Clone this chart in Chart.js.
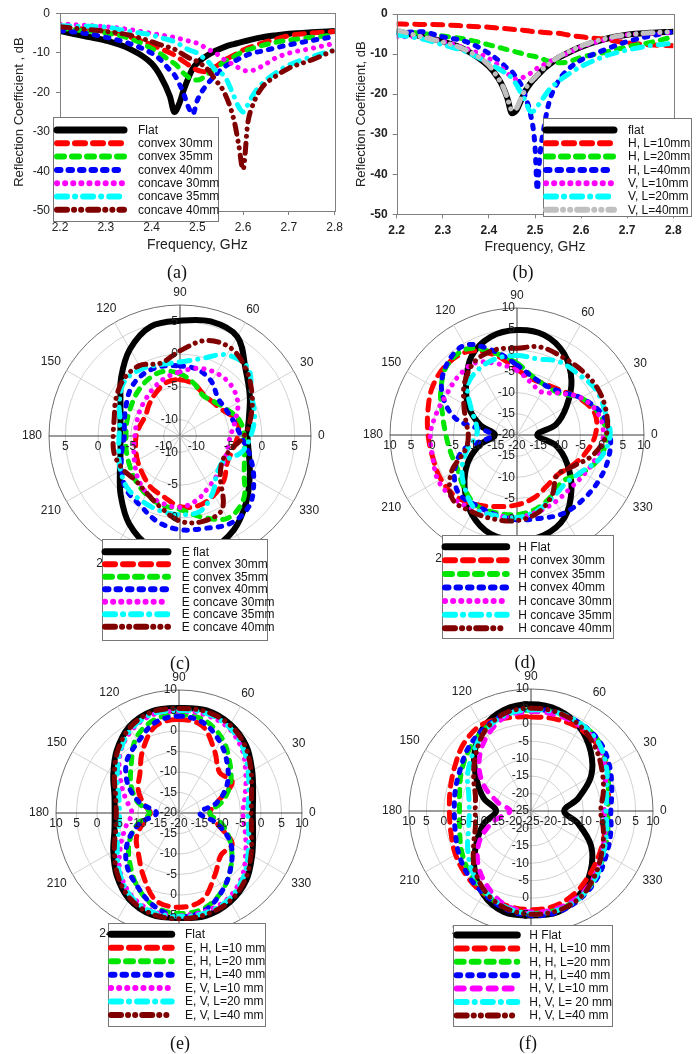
<!DOCTYPE html>
<html>
<head>
<meta charset="utf-8">
<script src="https://cdn.jsdelivr.net/npm/chart.js@4.4.0/dist/chart.umd.min.js"></script>
<style>
  body { margin: 0; background: #fff; width: 696px; height: 1054px; position: relative; overflow: hidden; }
  canvas { position: absolute; }
  .cap { position: absolute; width: 60px; margin-left: -30px; text-align: center; line-height: 20px;
         font-family: "Liberation Serif", "DejaVu Serif", serif; font-size: 18px; color: #111; }
</style>
</head>
<body>
<canvas id="ca" width="348" height="258" style="left:0;top:0"></canvas>
<canvas id="cb" width="348" height="258" style="left:348px;top:0"></canvas>
<canvas id="cc" width="348" height="400" style="left:0;top:258px"></canvas>
<canvas id="cd" width="348" height="400" style="left:348px;top:258px"></canvas>
<canvas id="ce" width="348" height="380" style="left:0;top:660px"></canvas>
<canvas id="cf" width="348" height="380" style="left:348px;top:660px"></canvas>
<div class="cap" style="left:177px;top:262px">(a)</div>
<div class="cap" style="left:523px;top:262px">(b)</div>
<div class="cap" style="left:180px;top:653px">(c)</div>
<div class="cap" style="left:525px;top:652px">(d)</div>
<div class="cap" style="left:180px;top:1033px">(e)</div>
<div class="cap" style="left:528px;top:1033px">(f)</div>
<script>
// ---- data: reflection coefficient (dB) vs frequency (GHz)
const X_TICKS = [2.2, 2.3, 2.4, 2.5, 2.6, 2.7, 2.8]
const Y_TICKS = [0, -10, -20, -30, -40, -50]

const FREQ_A = [2.2,2.25,2.3,2.35,2.4,2.42,2.44,2.45,2.46,2.47,2.48,2.49,2.5,2.51,2.52,2.54,2.56,2.58,2.59,2.6,2.61,2.62,2.64,2.67,2.7,2.75,2.8]
const A_LABELS = ['Flat', 'convex 30mm', 'convex 35mm', 'convex 40mm', 'concave 30mm', 'concave 35mm', 'concave 40mm']
const A_FLAT  = [-4.5,-5.7,-6.9,-8.9,-12.7,-16,-21,-25,-23,-19.5,-16.5,-14,-12.6,-11.6,-10.8,-9.5,-8.5,-7.8,-7.5,-7.2,-6.9,-6.6,-6.1,-5.6,-5.2,-4.8,-4.5]
const A_CVX30 = [-3.4,-4,-4.6,-5.9,-8,-9,-10,-10.6,-11.4,-12.2,-13,-13.7,-14.4,-14.7,-14.8,-13.5,-11.8,-10.6,-10,-9.3,-8.8,-8.4,-7.6,-6.6,-5.7,-5,-4.6]
const A_CVX35 = [-3.8,-4.4,-5,-6.3,-8.9,-10.3,-12,-12.7,-13.8,-15.2,-16.1,-16.9,-16.9,-16.5,-15.6,-13.9,-12.2,-11,-10.3,-9.7,-9.3,-8.9,-8.2,-7.4,-6.8,-6.1,-5.5]
const A_CVX40 = [-4.4,-5,-6.1,-7.6,-10.1,-11.8,-14.4,-15.6,-17.7,-20.3,-23.6,-25.5,-22,-19.8,-18.2,-15.6,-13.5,-12.2,-11.6,-11,-10.5,-10.1,-9.6,-8.8,-8,-6.9,-5.9]
const A_CCV30 = [-2.7,-3,-3.4,-4.1,-5.1,-5.5,-5.9,-6.1,-6.4,-6.7,-7,-7.3,-7.6,-8.2,-8.9,-10.1,-11.8,-13.1,-13.8,-14.4,-14.6,-14.5,-13.5,-11.4,-10.1,-8.9,-7.6]
const A_CCV35 = [-3.2,-3.3,-3.5,-4.6,-5.5,-6.2,-6.8,-7.2,-7.8,-8.5,-9.2,-9.6,-10.1,-11,-11.8,-14.4,-16,-21,-23.6,-25,-23.2,-21,-18,-15.2,-13.1,-11,-9.3]
const A_CCV40 = [-3.4,-4,-4.6,-5.5,-7.2,-8,-8.7,-9.1,-9.8,-10.5,-11.2,-11.7,-12.2,-13,-13.9,-16.9,-20.3,-27,-33,-39.5,-28,-23.6,-19,-16,-13.9,-11.8,-9.3]

const FREQ_B = [2.2,2.25,2.3,2.35,2.4,2.42,2.43,2.44,2.45,2.46,2.47,2.48,2.49,2.5,2.505,2.51,2.52,2.53,2.55,2.57,2.6,2.65,2.7,2.75,2.8]
const B_LABELS = ['flat', 'H, L=10mm', 'H, L=20mm', 'H, L=40mm', 'V, L=10mm', 'V, L=20mm', 'V, L=40mm']
const B_FLAT = [-4.4,-5.5,-6.9,-9,-13.1,-16,-18.1,-21,-24.8,-24,-21.5,-19,-17.3,-16,-15.4,-14.8,-13.6,-12.7,-11,-9.8,-8.2,-6.3,-5.2,-4.7,-4.4]
const B_H10  = [-2.5,-2.6,-2.7,-3,-3.3,-3.5,-3.6,-3.7,-3.8,-3.9,-4,-4.1,-4.3,-4.4,-4.45,-4.5,-4.6,-4.7,-4.8,-5.2,-5.7,-6.3,-7.2,-7.7,-7.9]
const B_H20  = [-4.4,-4.8,-5.5,-6.3,-7.7,-8.3,-8.6,-8.9,-9.2,-9.5,-9.8,-10.1,-10.4,-10.6,-10.8,-11,-11.4,-11.8,-12.2,-12,-10.8,-9.6,-8.2,-7.1,-5.7]
const B_H40  = [-4.8,-4.4,-5.7,-6.9,-9.8,-11.5,-12.5,-13.6,-14.4,-16,-17.7,-21,-24.8,-33,-44,-36,-28,-22.3,-16.9,-14,-11.5,-9,-6.9,-5.5,-4.4]
const B_V10  = [-5.7,-5.7,-6.9,-8.6,-11.1,-12.7,-13.7,-14.8,-15.8,-16.3,-16,-15.5,-14.8,-14,-13.5,-13.1,-12.6,-12,-10.8,-9.8,-8.2,-6.5,-5.2,-4.8,-4.6]
const B_V20  = [-5.2,-6.1,-7.7,-9.4,-12.3,-13.6,-14.3,-15,-16,-17.7,-19.8,-21.9,-24.4,-24,-23.1,-22.3,-20.6,-19,-16.9,-15.2,-13.1,-10.6,-9,-7.9,-7.3]
const B_V40  = [-4,-5.6,-7,-9,-12.8,-16,-18,-21,-24,-23.5,-21,-18.5,-17,-15.8,-15.2,-14.6,-13.4,-12.5,-10.8,-9.6,-8,-6.2,-5.2,-4.7,-4.4]

// ---- data: radiation patterns (dB), angles in degrees, 0 = right, counter-clockwise
const ANGLES = [0,15,30,45,60,75,90,105,120,135,150,165,180,195,210,225,240,255,270,285,300,315,330,345]
const ANGLE_TICKS = [0,30,60,90,120,150,180,210,240,270,300,330]

const C_LABELS = ['E flat', 'E convex 30mm', 'E convex 35mm', 'E convex 40mm', 'E concave 30mm', 'E concave 35mm', 'E concave 40mm']
const C_RTICKS = [-10, -5, 0, 5]
const C_FLAT  = [-2.2,-1.6,-0.2,1.7,5.0,5.6,5.1,4.8,2.8,0.2,-2.0,-3.1,-3.4,-3.1,-1.9,0.3,3.0,5.0,5.6,5.4,4.0,1.8,-0.2,-1.6]
const C_CVX30 = [-3.7,-3.4,-4.8,-5.3,-5.2,-4.3,-3.9,-4.1,-5.0,-5.8,-6.4,-6.2,-5.8,-5.5,-5.0,-4.4,-3.5,-2.9,-1.7,-1.5,-2.1,-3.0,-4.2,-4.2]
const C_CVX35 = [-2.7,-3.1,-4.3,-5.1,-5.4,-4.2,-3.0,-2.3,-2.6,-3.2,-3.8,-4.1,-4.25,-4.0,-3.6,-2.9,-2.2,-1.6,-1.3,0.3,2.0,1.2,-1.2,-2.3]
const C_CVX40 = [-3.2,-4.0,-4.4,-4.3,-2.9,-2.0,-1.8,-1.5,-1.5,-2.0,-3.0,-3.7,-4.0,-3.3,-2.2,-0.9,-0.3,1.0,1.8,2.1,2.9,2.5,0.5,-1.5]
const C_CCV30 = [-4.8,-3.8,-2.3,-1.5,-1.4,-1.8,-2.7,-3.4,-4.2,-4.9,-5.3,-5.6,-5.6,-5.2,-4.5,-3.4,-2.4,-1.9,-1.6,-2.4,-3.6,-4.3,-4.7,-5.0]
const C_CCV35 = [-1.7,-0.7,0.1,2.2,1.8,-0.3,-1.2,-1.2,-0.7,-0.6,-1.8,-3.0,-3.2,-2.8,-2.0,-1.2,-1.0,-0.7,-0.5,-0.6,-2.5,-4.5,-4.8,-2.8]
const C_CCV40 = [-2.7,-1.3,0.2,1.8,3.0,2.6,0.5,-1.0,-0.1,-0.3,-1.2,-2.1,-2.3,-2.1,-2.4,-2.9,-2.4,-1.2,0.5,1.0,0.4,-3.8,-5.0,-4.5]

const D_LABELS = ['H Flat', 'H convex 30mm', 'H convex 35mm', 'H convex 40mm', 'H concave 30mm', 'H concave 35mm', 'H concave 40mm']
const D_RTICKS = [-20, -15, -10, -5, 0, 5, 10]
const D_FLAT  = [-15.2,-10.5,-6.5,-1.8,2.2,4.5,4.8,4.0,1.5,-3.0,-6.8,-11.0,-14.8,-10.8,-6.5,-2.5,1.5,4.2,4.8,4.5,2.5,-1.8,-6.3,-10.5]
const D_CVX30 = [-1.5,-0.9,-2.8,-5.2,-6.2,-6.3,-4.5,-0.5,2.8,3.5,3.0,1.8,1.0,0.6,0.8,0.5,-1.0,-2.5,-3.5,-4.6,-6.0,-6.6,-5.2,-3.3]
const D_CVX35 = [1.2,0.0,-2.5,-6.0,-6.5,-5.7,-3.0,0.0,3.5,3.3,0.8,-1.8,-3.2,-3.8,-3.8,-2.3,-0.8,-1.0,-1.2,-2.0,-3.5,-4.6,-2.2,0.3]
const D_CVX40 = [2.0,0.5,-2.5,-5.5,-6.5,-5.8,-3.5,0.5,4.5,3.5,0.5,-5.0,-14.0,-7.0,-3.0,-0.5,-0.8,-0.5,0.0,0.4,1.5,1.8,2.1,2.3]
const D_CCV30 = [0.4,-0.2,-2.5,-6.0,-8.3,-7.2,-4.8,-2.6,-0.3,-0.4,-0.8,-0.3,0.5,0.6,1.5,1.2,0.3,-0.4,-0.5,-1.2,-1.8,-2.2,-1.6,-0.5]
const D_CCV35 = [2.0,1.5,1.5,0.4,0.0,-1.4,-1.2,-1.3,-2.0,-3.5,-7.5,-10.0,-10.5,-8.0,-5.0,-2.5,0.0,-0.3,-0.5,-1.5,-3.0,-3.8,-2.5,0.5]
const D_CCV40 = [1.1,1.8,2.0,1.6,1.3,1.5,0.5,0.8,0.0,-2.5,-5.5,-7.5,-8.5,-7.5,-2.0,1.5,1.0,0.6,0.2,-1.0,-3.5,-6.6,-5.0,-1.5]

const E_LABELS = ['Flat', 'E, H, L=10 mm', 'E, H, L=20 mm', 'E, H, L=40 mm', 'E, V, L=10 mm', 'E, V, L=20 mm', 'E, V, L=40 mm']
const E_RTICKS = [-20, -15, -10, -5, 0, 5, 10]
const E_FLAT = [-2.0,-1.3,0.6,3.2,5.0,5.9,5.6,5.7,4.3,1.5,-1.5,-3.7,-4.3,-3.7,-1.5,1.5,4.3,5.7,5.6,5.9,5.0,3.2,0.6,-1.3]
const E_H10  = [-12.5,-10.5,-5.0,-6.0,-2.6,2.0,2.8,2.0,-2.3,-6.5,-8.5,-11.0,-13.0,-11.0,-8.0,-6.0,-2.5,2.0,3.0,2.0,-2.5,-5.5,-5.0,-10.5]
const E_H20  = [-12.5,-9.0,-5.5,-2.5,1.0,3.5,4.0,3.5,1.0,-3.5,-6.5,-9.5,-12.8,-9.5,-6.0,-3.0,0.5,3.5,4.5,4.0,1.5,-2.0,-5.5,-9.0]
const E_H40  = [-15.0,-10.5,-6.5,-3.3,0.0,2.8,3.6,2.8,0.0,-2.0,-5.5,-10.0,-14.5,-10.0,-5.5,-2.0,0.5,3.5,5.3,4.5,1.5,-2.0,-5.5,-10.5]
const E_V10  = [-4.4,-3.3,-1.2,1.8,4.0,4.8,4.8,4.8,3.2,0.3,-3.5,-6.5,-8.5,-6.5,-3.5,0.3,3.2,4.8,5.0,4.8,4.0,1.8,-1.2,-3.3]
const E_V20  = [-3.2,-2.4,-0.5,2.2,4.3,5.2,5.0,5.0,3.5,0.5,-2.6,-4.8,-5.5,-4.8,-2.6,0.5,3.5,5.0,5.2,5.2,4.3,2.2,-0.5,-2.4]
const E_V40  = [-2.4,-1.7,0.3,2.9,4.8,5.6,5.5,5.5,4.0,1.2,-1.8,-4.0,-4.7,-4.0,-1.8,1.2,4.0,5.5,5.8,5.6,4.8,2.9,0.3,-1.7]

const F_LABELS = ['H Flat', 'H, H, L=10 mm', 'H, H, L=20 mm', 'H, H, L=40 mm', 'H, V, L=10 mm', 'H, V, L= 20 mm', 'H, V, L=40 mm']
const F_RTICKS = [-25, -20, -15, -10, -5, 0, 5, 10]
const F_FLAT = [-15.5,-11.0,-5.1,-0.8,2.8,5.0,5.6,5.0,2.5,-2.0,-7.0,-11.0,-15.0,-11.0,-7.0,-2.0,2.5,5.0,5.0,5.0,2.8,-0.8,-5.1,-11.0]
const F_H10  = [-3.0,-2.0,0.0,1.8,2.5,2.3,2.0,2.6,3.5,2.3,0.3,-1.0,-1.6,-1.2,0.0,1.2,2.3,3.0,3.3,3.0,1.5,-0.5,-2.0,-3.0]
const F_H20  = [-3.0,-2.0,0.3,2.8,3.8,4.0,4.0,3.5,2.0,0.0,-2.0,-3.8,-4.5,-3.8,-2.0,0.0,2.0,3.5,4.3,4.3,3.5,1.5,-0.8,-2.2]
const F_H40  = [-2.1,-1.0,1.0,3.0,3.8,4.2,4.2,3.7,2.2,0.5,-1.5,-2.5,-3.0,-2.5,-1.0,0.7,2.3,4.0,5.0,5.0,3.8,2.0,0.0,-1.3]
const F_V10  = [-4.0,-3.0,-0.5,2.0,3.2,3.5,3.5,3.0,0.0,-4.0,-9.0,-15.0,-19.0,-14.0,-8.0,-3.5,0.0,3.0,4.0,4.0,3.0,1.0,-1.5,-3.0]
const F_V20  = [-3.5,-2.5,0.0,2.5,3.8,4.2,4.0,3.5,1.5,-1.5,-4.0,-6.5,-7.3,-6.5,-4.0,-1.0,1.5,3.5,4.5,4.5,3.5,1.5,-1.0,-2.5]
const F_V40  = [-5.0,-3.5,-1.5,1.0,3.2,4.3,4.5,4.0,1.5,-2.5,-6.0,-8.5,-9.0,-8.5,-6.0,-2.0,1.5,3.8,4.6,4.6,3.5,1.0,-1.5,-3.5]

// ---- styles
const FONT = '"Liberation Sans", Arial, sans-serif'
Chart.defaults.font.family = FONT
Chart.defaults.color = '#222'

const COLORS = ['#000000', '#ff0000', '#00e600', '#0000ff', '#ff00ff', '#00ffff', '#800000']
const COLORS_B = ['#000000', '#ff0000', '#00e600', '#0000ff', '#ff00ff', '#00ffff', '#c0c0c0']
const DASHES = [[], [10, 8], [7, 8], [3.5, 8], [0.1, 8], [10, 8, 0.1, 8], [10, 7, 0.1, 7, 0.1, 7]]
const DASHES_F = [[], [10, 8], [7, 8], [3.5, 8], [7, 9], [10, 8, 0.1, 8], [10, 7, 0.1, 7, 0.1, 7]]

// radar puts the first label on top and goes clockwise
const RADAR_ANGLES = ANGLES.map((a, i) => (450 - 15 * i) % 360)
const toRadar = vals => RADAR_ANGLES.map(a => vals[ANGLES.indexOf(a)])

function makeSets(labels, series, colors, dashes, xs) {
  return series.map((vals, i) => ({
    label: labels[i],
    data: xs ? vals.map((y, k) => ({ x: xs[k], y: y })) : toRadar(vals),
    borderColor: colors[i],
    backgroundColor: colors[i],
    borderDash: dashes[i],
    borderWidth: i === 0 ? 6 : 5,
    borderCapStyle: 'round',
    borderJoinStyle: 'round',
    pointRadius: 0,
    fill: false,
    tension: xs ? 0.4 : 0.35,
    cubicInterpolationMode: xs ? 'monotone' : 'default',
    order: series.length - i,
  }))
}

// box round the plot area of the line charts
const frame = {
  id: 'frame',
  afterDraw(chart, args, o) {
    if (!o.on) return
    const { left, top, right, bottom } = chart.chartArea
    const ctx = chart.ctx
    ctx.save()
    ctx.strokeStyle = '#808080'
    ctx.lineWidth = 1
    ctx.strokeRect(Math.round(left) + 0.5, Math.round(top) + 0.5, Math.round(right - left), Math.round(bottom - top))
    ctx.restore()
  }
}

// angle labels and radial labels of the polar charts
const polarText = {
  id: 'polarText',
  afterDatasetsDraw(chart, args, o) {
    if (!o.ticks) return
    const s = chart.scales.r
    const ctx = chart.ctx
    ctx.save()
    ctx.font = '12px ' + FONT
    ctx.fillStyle = '#222'
    ctx.textBaseline = 'middle'
    ctx.textAlign = 'center'
    ANGLE_TICKS.forEach(a => {
      const i = RADAR_ANGLES.indexOf(a)
      const t = String(a)
      const w = ctx.measureText(t).width
      const rad = a * Math.PI / 180
      const d = s.drawingArea + 7 + Math.abs(Math.cos(rad)) * w / 2 + Math.abs(Math.sin(rad)) * 5
      const p = s.getPointPosition(i, d)
      ctx.fillText(t, p.x, p.y)
    })
    o.ticks.forEach(v => {
      const d = s.getDistanceFromCenterForValue(v)
      const t = String(v)
      ctx.textAlign = 'center'
      ctx.fillText(t, s.xCenter - d, s.yCenter + 11)
      if (d > 1) ctx.fillText(t, s.xCenter + d, s.yCenter + 11)
      ctx.textAlign = 'right'
      ctx.fillText(t, s.xCenter - 2, s.yCenter - d)
      if (d > 1) ctx.fillText(t, s.xCenter - 2, s.yCenter + d)
    })
    ctx.restore()
  }
}

// framed legend with line samples
const boxLegend = {
  id: 'boxLegend',
  afterDraw(chart, args, o) {
    if (!o.box) return
    const ctx = chart.ctx
    const [bx, by, bw, bh] = o.box
    ctx.save()
    ctx.fillStyle = '#fff'
    ctx.fillRect(bx, by, bw, bh)
    ctx.strokeStyle = '#777'
    ctx.lineWidth = 1
    ctx.strokeRect(Math.round(bx) + 0.5, Math.round(by) + 0.5, Math.round(bw), Math.round(bh))
    ctx.font = '12px ' + FONT
    ctx.textBaseline = 'middle'
    ctx.textAlign = 'left'
    chart.data.datasets.forEach((ds, i) => {
      const y = o.y0 + i * o.dy
      ctx.beginPath()
      ctx.setLineDash(ds.borderDash || [])
      ctx.lineCap = 'round'
      ctx.lineWidth = i === 0 ? 7 : 6
      ctx.strokeStyle = ds.borderColor
      ctx.moveTo(o.x0, y)
      ctx.lineTo(o.x1, y)
      ctx.stroke()
      ctx.setLineDash([])
      ctx.fillStyle = '#111'
      ctx.fillText(ds.label, o.tx, y + 0.5)
    })
    ctx.restore()
  }
}

Chart.register(frame, polarText, boxLegend)

function lineChart(id, sets, o) {
  return new Chart(document.getElementById(id), {
    type: 'line',
    data: { datasets: sets },
    options: {
      responsive: false,
      animation: false,
      devicePixelRatio: 1,
      events: [],
      layout: { padding: o.pad },
      plugins: {
        legend: { display: false },
        tooltip: { enabled: false },
        frame: { on: true },
        boxLegend: o.legend,
      },
      scales: {
        x: {
          type: 'linear', min: 2.2, max: 2.8,
          afterBuildTicks: s => { s.ticks = X_TICKS.map(v => ({ value: v })) },
          afterFit: s => { s.height = o.xh },
          ticks: { callback: v => v.toFixed(1), font: o.tickFont, color: '#222', padding: 5, maxRotation: 0, autoSkip: false },
          grid: { drawOnChartArea: false, tickLength: 4, color: '#808080' },
          border: { display: false },
          title: { display: true, text: 'Frequency, GHz', font: { size: 14 }, color: '#222', padding: { top: 0, bottom: o.xtp } },
        },
        y: {
          min: -50, max: 0,
          afterBuildTicks: s => { s.ticks = Y_TICKS.map(v => ({ value: v })) },
          afterFit: s => { s.width = o.yw },
          ticks: { font: o.tickFont, color: '#222', padding: o.ytickPad },
          grid: { drawOnChartArea: false, tickLength: 4, color: '#808080' },
          border: { display: false },
          title: { display: true, text: o.ytitle, font: { size: 13 }, color: '#222', padding: { top: o.ytp, bottom: 0 } },
        },
      },
    },
  })
}

function polarChart(id, sets, o) {
  const rings = Array.from(new Set([o.min].concat(o.ticks.filter(v => v > o.min), [o.max])))
  return new Chart(document.getElementById(id), {
    type: 'radar',
    data: { labels: RADAR_ANGLES.map(String), datasets: sets },
    options: {
      responsive: false,
      animation: false,
      devicePixelRatio: 1,
      events: [],
      layout: { padding: o.pad },
      plugins: {
        legend: { display: false },
        tooltip: { enabled: false },
        polarText: { ticks: o.ticks },
        boxLegend: o.legend,
      },
      scales: {
        r: {
          min: o.min, max: o.max,
          afterBuildTicks: s => { s.ticks = rings.map(v => ({ value: v })) },
          ticks: { display: false },
          pointLabels: { display: false },
          grid: {
            circular: true,
            lineWidth: 1,
            color: c => (c.tick && c.tick.value === o.max) ? '#707070' : '#d2d2d2',
          },
          angleLines: {
            display: true,
            color: c => c.index % 6 === 0 ? '#3a3a3a' : '#d2d2d2',
            lineWidth: c => c.index % 2 === 0 ? 1 : 0,
          },
        },
      },
    },
  })
}

// (a)
lineChart('ca',
  makeSets(A_LABELS, [A_FLAT, A_CVX30, A_CVX35, A_CVX40, A_CCV30, A_CCV35, A_CCV40], COLORS, DASHES, FREQ_A),
  { pad: { left: 4, top: 13, right: 10, bottom: 0 }, xh: 47, yw: 56, xtp: 4.6, ytp: 7.2, ytickPad: 6,
    tickFont: { size: 12 }, ytitle: 'Reflection Coefficient , dB',
    legend: { box: [53, 117, 165, 104], y0: 130, dy: 13.3, x0: 57, x1: 124, tx: 138 } })

// (b)
lineChart('cb',
  makeSets(B_LABELS, [B_FLAT, B_H10, B_H20, B_H40, B_V10, B_V20, B_V40], COLORS_B, DASHES, FREQ_B),
  { pad: { left: 4, top: 14, right: 22.7, bottom: 0 }, xh: 43.7, yw: 44.7, xtp: 2.6, ytp: 2, ytickPad: 5,
    tickFont: { size: 12, weight: 'bold' }, ytitle: 'Reflection Coefficient, dB',
    legend: { box: [195, 118, 148, 98], y0: 130, dy: 13.3, x0: 198, x1: 266, tx: 280 } })

// (c)
polarChart('cc',
  makeSets(C_LABELS, [C_FLAT, C_CVX30, C_CVX35, C_CVX40, C_CCV30, C_CCV35, C_CCV40], COLORS, DASHES),
  { min: -12.5, max: 7.5, ticks: C_RTICKS, pad: { left: 49.7, top: 47.7, right: 36.3, bottom: 90.3 },
    legend: { box: [102, 281, 165, 101], y0: 293.7, dy: 12.5, x0: 105, x1: 168, tx: 181.7 } })

// (d)
polarChart('cd',
  makeSets(D_LABELS, [D_FLAT, D_CVX30, D_CVX35, D_CVX40, D_CCV30, D_CCV35, D_CCV40], COLORS, DASHES),
  { min: -20, max: 10, ticks: D_RTICKS, pad: { left: 42.3, top: 50, right: 51.7, bottom: 96 },
    legend: { box: [94, 277, 170.6, 103.3], y0: 288.7, dy: 13.6, x0: 97, x1: 158.7, tx: 170.3 } })

// (e)
polarChart('ce',
  makeSets(E_LABELS, [E_FLAT, E_H10, E_H20, E_H40, E_V10, E_V20, E_V40], COLORS, DASHES),
  { min: -20, max: 10, ticks: E_RTICKS, pad: { left: 56.3, top: 30.3, right: 45.7, bottom: 103.7 },
    legend: { box: [108.3, 263, 157.4, 103], y0: 274.3, dy: 13.45, x0: 111, x1: 171.7, tx: 185 } })

// (f)
polarChart('cf',
  makeSets(F_LABELS, [F_FLAT, F_H10, F_H20, F_H40, F_V10, F_V20, F_V40], COLORS, DASHES_F),
  { min: -25, max: 10, ticks: F_RTICKS, pad: { left: 61.7, top: 29.7, right: 42.3, bottom: 106.3 },
    legend: { box: [105.3, 265, 159, 100.7], y0: 275, dy: 13.4, x0: 108.7, x1: 169.3, tx: 181.3 } })
</script>
</body>
</html>
